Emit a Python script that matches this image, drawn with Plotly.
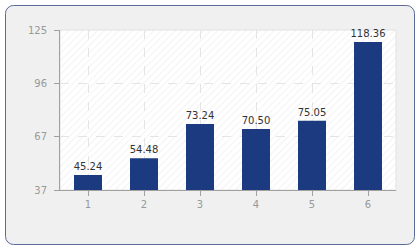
import base64
import plotly.graph_objects as go

categories = ["1", "2", "3", "4", "5", "6"]
values = [45.24, 54.48, 73.24, 70.50, 75.05, 118.36]
y_min, y_max = 37, 125
y_tick_labels = ["37", "67", "96", "125"]

W, H = 420, 250
L, R, T, B = 60, 24, 30, 60
pw, ph = W - L - R, H - T - B

svg = f'''<svg xmlns="http://www.w3.org/2000/svg" width="{W}" height="{H}" viewBox="0 0 {W} {H}">
<defs><pattern id="h" width="5" height="5" patternUnits="userSpaceOnUse" patternTransform="rotate(45)">
<rect width="5" height="5" fill="#ffffff"/><line x1="0" y1="0" x2="0" y2="5" stroke="#f0f0f0" stroke-width="1.5"/></pattern></defs>
<rect x="0" y="0" width="{W}" height="{H}" fill="#ffffff"/>
<rect x="5.5" y="5.5" width="409" height="239" rx="8" ry="8" fill="#f0f0f0" stroke="#5b6a98" stroke-width="1"/>
<rect x="{L}" y="{T}" width="{pw}" height="{ph}" fill="url(#h)" stroke="#e2e2e2" stroke-width="1"/>
</svg>'''
src = "data:image/svg+xml;base64," + base64.b64encode(svg.encode()).decode()

step = (y_max - y_min) / (len(y_tick_labels) - 1)
tickvals = [y_min + i * step for i in range(len(y_tick_labels))]

fig = go.Figure(go.Bar(
    x=categories, y=values, width=0.5,
    marker=dict(color="#1b3a80", line=dict(width=0)),
    texttemplate="%{y:.2f}", textposition="outside",
    textfont=dict(family="DejaVu Sans", size=10, color="#333333"),
    cliponaxis=False,
))

fig.update_layout(
    width=W, height=H,
    margin=dict(l=L, r=R, t=T, b=B),
    paper_bgcolor="rgba(0,0,0,0)", plot_bgcolor="rgba(0,0,0,0)",
    showlegend=False,
    uniformtext=dict(minsize=10, mode="show"),
    images=[dict(source=src, xref="paper", yref="paper",
                 x=-L / pw, y=1 + T / ph, sizex=W / pw, sizey=H / ph,
                 sizing="stretch", xanchor="left", yanchor="top", layer="below")],
    font=dict(family="DejaVu Sans", size=10, color="#999999"),
)
fig.update_xaxes(
    type="category", showgrid=True, gridcolor="#e4e4e4", griddash="dash", gridwidth=1,
    showline=True, linecolor="#a0a0a0", linewidth=1,
    ticks="outside", ticklen=5, tickcolor="#a0a0a0",
    tickfont=dict(size=10, color="#999999"),
)
fig.update_yaxes(
    range=[y_min, y_max], tickvals=tickvals, ticktext=y_tick_labels,
    showgrid=True, gridcolor="#e4e4e4", griddash="dash", gridwidth=1,
    zeroline=False,
    showline=True, linecolor="#a0a0a0", linewidth=1,
    ticks="outside", ticklen=5, tickcolor="#a0a0a0",
    ticklabelstandoff=5,
    tickfont=dict(size=10, color="#999999"),
)

fig.write_html("out.html")
